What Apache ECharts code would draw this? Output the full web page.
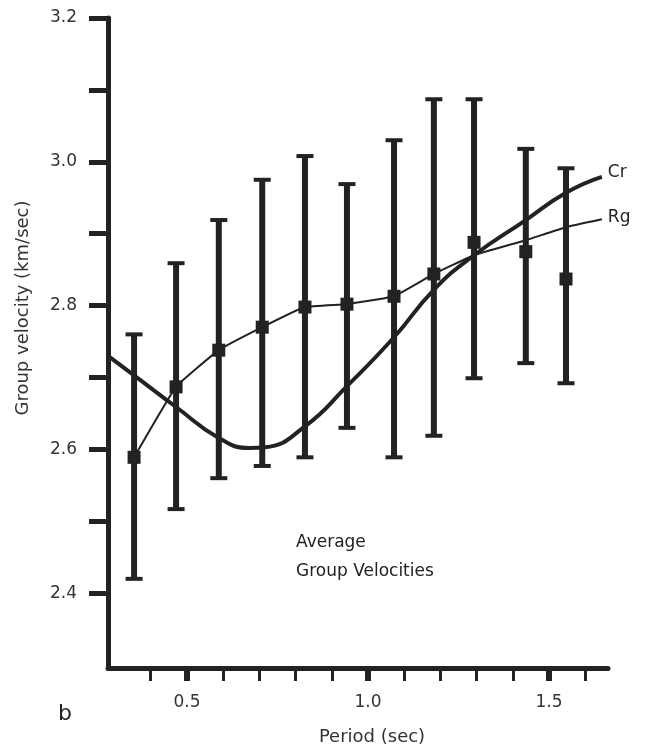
<!DOCTYPE html>
<html>
<head>
<meta charset="utf-8">
<script src="https://cdn.jsdelivr.net/npm/echarts@6/dist/echarts.min.js"></script>
<style>
  html, body { margin: 0; padding: 0; background: #fff; }
  #chart { width: 648px; height: 748px; }
</style>
</head>
<body>
<div id="chart"></div>
<script>
// averaged measurements (period in sec, group velocity in km/sec)
const periods   = [0.354, 0.470, 0.588, 0.708, 0.826, 0.942, 1.072, 1.182, 1.293, 1.436, 1.547]
const meanVel   = [2.589, 2.687, 2.738, 2.770, 2.798, 2.802, 2.813, 2.844, 2.888, 2.875, 2.837]
const upperVel  = [2.760, 2.859, 2.919, 2.975, 3.008, 2.969, 3.030, 3.087, 3.087, 3.018, 2.991]
const lowerVel  = [2.420, 2.517, 2.560, 2.577, 2.589, 2.630, 2.589, 2.619, 2.699, 2.720, 2.692]

// model curves
const crPeriod = [0.282, 0.354, 0.470, 0.588, 0.674, 0.715, 0.826, 0.942, 1.072, 1.182, 1.293, 1.436, 1.547, 1.646]
const crVel    = [2.730, 2.703, 2.659, 2.616, 2.602, 2.603, 2.632, 2.688, 2.756, 2.822, 2.870, 2.919, 2.957, 2.979]
const rgPeriod = [0.354, 0.470, 0.588, 0.708, 0.826, 0.942, 1.072, 1.182, 1.293, 1.436, 1.547, 1.646]
const rgVel    = [2.589, 2.687, 2.738, 2.770, 2.798, 2.802, 2.813, 2.844, 2.870, 2.891, 2.909, 2.920]

// axes
const xMinorTicks = [0.4, 0.5, 0.6, 0.7, 0.8, 0.9, 1.0, 1.1, 1.2, 1.3, 1.4, 1.5, 1.6]
const xMajorTicks = [0.5, 1.0, 1.5]
const yTicks      = [2.4, 2.5, 2.6, 2.7, 2.8, 2.9, 3.0, 3.1, 3.2]
const yLabels     = [2.4, 2.6, 2.8, 3.0, 3.2]

const ink = '#222'
const font = 'DejaVu Sans'

const chart = echarts.init(document.getElementById('chart'))

function renderErrorBar(params, api) {
  const x = api.value(0)
  const top = api.coord([x, api.value(2)])
  const bot = api.coord([x, api.value(1)])
  const half = 8.5
  const st = { stroke: ink, lineWidth: 6 }
  const cap = { stroke: ink, lineWidth: 4 }
  return {
    type: 'group',
    children: [
      { type: 'line', shape: { x1: top[0], y1: top[1], x2: bot[0], y2: bot[1] }, style: st },
      { type: 'line', shape: { x1: top[0] - half, y1: top[1], x2: top[0] + half, y2: top[1] }, style: cap },
      { type: 'line', shape: { x1: bot[0] - half, y1: bot[1], x2: bot[0] + half, y2: bot[1] }, style: cap }
    ]
  }
}

const axisText = { fontFamily: font, fontSize: 17, color: '#333' }

chart.setOption({
  animation: false,
  grid: { left: 108, right: 40, top: 18, bottom: 80 },
  xAxis: [
    {
      type: 'value', min: 0.282, max: 1.663, position: 'bottom',
      splitLine: { show: false },
      axisLine: { lineStyle: { color: ink, width: 5 } },
      axisTick: { customValues: xMinorTicks, length: 13, lineStyle: { color: ink, width: 3 } },
      axisLabel: { customValues: xMajorTicks, formatter: v => v.toFixed(1), margin: 26, ...axisText }
    },
    {
      type: 'value', min: 0.282, max: 1.663, position: 'bottom',
      splitLine: { show: false },
      axisLine: { show: false },
      axisTick: { customValues: xMajorTicks, length: 13, lineStyle: { color: ink, width: 6 } },
      axisLabel: { show: false }
    }
  ],
  yAxis: {
    type: 'value', min: 2.296, max: 3.2,
    splitLine: { show: false },
    axisLine: { lineStyle: { color: ink, width: 5 } },
    axisTick: { customValues: yTicks, length: 19, lineStyle: { color: ink, width: 5 } },
    axisLabel: { customValues: yLabels, formatter: v => v.toFixed(1), margin: 31, ...axisText }
  },
  graphic: [
    { type: 'text', x: 23, y: 308, rotation: Math.PI / 2,
      style: { text: 'Group velocity (km/sec)', font: '18px "DejaVu Sans"', fill: '#333', align: 'center', verticalAlign: 'middle' } },
    { type: 'text', x: 372, y: 737,
      style: { text: 'Period (sec)', font: '18px "DejaVu Sans"', fill: '#333', align: 'center', verticalAlign: 'middle' } },
    { type: 'text', x: 65, y: 714,
      style: { text: 'b', font: '22px "DejaVu Sans"', fill: '#222', align: 'center', verticalAlign: 'middle' } },
    { type: 'text', x: 296, y: 543,
      style: { text: 'Average', font: '17px "DejaVu Sans"', fill: '#222', verticalAlign: 'middle' } },
    { type: 'text', x: 296, y: 572,
      style: { text: 'Group Velocities', font: '17px "DejaVu Sans"', fill: '#222', verticalAlign: 'middle' } }
  ],
  series: [
    {
      name: 'range', type: 'custom', renderItem: renderErrorBar, z: 2,
      encode: { x: 0, y: [1, 2] },
      data: periods.map((p, i) => [p, lowerVel[i], upperVel[i]])
    },
    {
      name: 'Cr', type: 'line', smooth: 0.5, symbol: 'none', z: 3,
      lineStyle: { color: ink, width: 4 },
      data: crPeriod.map((p, i) => [p, crVel[i]]),
      endLabel: { show: true, formatter: 'Cr', distance: 6, offset: [0, -4], fontFamily: font, fontSize: 17, color: ink }
    },
    {
      name: 'Rg', type: 'line', smooth: 0.1, symbol: 'none', z: 3,
      lineStyle: { color: ink, width: 2 },
      data: rgPeriod.map((p, i) => [p, rgVel[i]]),
      endLabel: { show: true, formatter: 'Rg', distance: 6, offset: [0, -2], fontFamily: font, fontSize: 17, color: ink }
    },
    {
      name: 'mean', type: 'scatter', symbol: 'rect', symbolSize: 13, z: 4,
      itemStyle: { color: ink, opacity: 1 },
      data: periods.map((p, i) => [p, meanVel[i]])
    }
  ]
})
</script>
</body>
</html>
